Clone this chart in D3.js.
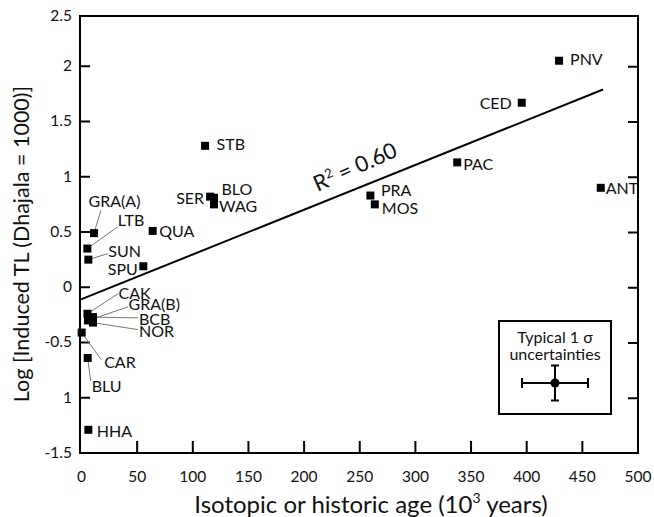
<!DOCTYPE html>
<html>
<head>
<meta charset="utf-8">
<script src="https://cdn.jsdelivr.net/npm/d3@7"></script>
<style>
  html, body { margin: 0; padding: 0; background: #fff; }
  svg { display: block; font-family: Lato, "Open Sans", sans-serif; }
</style>
</head>
<body>
<svg id="chart" width="654" height="517"></svg>
<script>
// Sample sites: isotopic/historic age (kyr) and log induced TL
const sites = ["PNV", "CED", "PAC", "ANT", "PRA", "MOS", "STB", "SER", "BLO", "WAG",
               "QUA", "GRA(A)", "LTB", "SUN", "SPU", "CAK", "GRA(B)", "BCB", "NOR",
               "CAR", "BLU", "HHA"];
const ages = [429.5, 396, 338, 467, 260, 264, 111.5, 116, 119.5, 119.5,
              64.4, 11.7, 5.7, 6.6, 56, 5.8, 6.3, 10.8, 10.8,
              0.6, 6, 6.6];
const logTL = [2.05, 1.67, 1.13, 0.90, 0.83, 0.75, 1.28, 0.82, 0.81, 0.75,
               0.51, 0.49, 0.35, 0.25, 0.19, -0.24, -0.30, -0.27, -0.32,
               -0.41, -0.64, -1.29];

// Least-squares fit line (intercept, slope) and its drawn extent
const fitIntercept = -0.11;
const fitSlope = 0.00405;
const fitRange = [0, 469];

// Axis ticks
const xTicks = [0, 50, 100, 150, 200, 250, 300, 350, 400, 450, 500];
const yTicks = [2.5, 2, 1.5, 1, 0.5, 0, -0.5, -1, -1.5];
const yTickLabels = ["2.5", "2", "1.5", "1", "0.5", "0", "-0.5", "1", "-1.5"];

// Label placement per site: [dx, dy, anchor] and optional leader end offset
const labelPlacement = {
  "PNV":    { d: [11, -2.5, "start"] },
  "CED":    { d: [-10, 0, "end"] },
  "PAC":    { d: [6, 1, "start"] },
  "ANT":    { d: [5, 0, "start"] },
  "PRA":    { d: [10.5, -6, "start"] },
  "MOS":    { d: [7, 3, "start"] },
  "STB":    { d: [11.5, -2, "start"] },
  "SER":    { d: [-6, 1, "end"] },
  "BLO":    { d: [7.5, -9, "start"] },
  "WAG":    { d: [5, 1.5, "start"] },
  "QUA":    { d: [6.5, 0, "start"] },
  "GRA(A)": { d: [20.5, -33, "middle"], leader: [7, -23] },
  "LTB":    { d: [30.5, -29, "start"], leader: [30, -21.5] },
  "SUN":    { d: [20, -9, "start"], leader: [19.5, -6] },
  "SPU":    { d: [-5.5, 2, "end"] },
  "CAK":    { d: [31, -21, "start"], leader: [30.5, -20] },
  "GRA(B)": { d: [40.5, -17, "start"], leader: [40, -13.5] },
  "BCB":    { d: [46, 1.5, "start"], leader: [45, 0.8] },
  "NOR":    { d: [46, 7.7, "start"], leader: [45, 7] },
  "CAR":    { d: [22.5, 29, "start"], leader: [19.5, 27] },
  "BLU":    { d: [4, 27.7, "start"], leader: [3, 23] },
  "HHA":    { d: [8.5, 0.7, "start"] }
};

const svg = d3.select("#chart");
const frame = { left: 80, right: 638, top: 16, bottom: 453 };

const x = d3.scaleLinear().domain([0, 500]).range([81, 637.5]);
const y = d3.scaleLinear().domain([-1.5, 2.5]).range([453, 11]);

// Frame
svg.append("rect")
  .attr("x", frame.left).attr("y", frame.top)
  .attr("width", frame.right - frame.left).attr("height", frame.bottom - frame.top)
  .attr("fill", "none").attr("stroke", "#000").attr("stroke-width", 2);

// Axes with inward ticks
const fontTick = 15.5;
const xAxis = d3.axisBottom(x).tickValues(xTicks).tickSize(-12).tickPadding(18)
  .tickFormat(d3.format("d"));
const gx = svg.append("g").attr("transform", `translate(0,${frame.bottom})`).call(xAxis);
gx.select(".domain").remove();
gx.selectAll(".tick line").attr("stroke", "#000").attr("stroke-width", 2)
  .filter(d => d === 0 || d === 500).remove();
gx.selectAll(".tick text").attr("font-size", fontTick).attr("fill", "#111")
  .attr("font-family", "Lato, sans-serif");

const yAxis = d3.axisLeft(y).tickValues(yTicks).tickSize(-10).tickPadding(8)
  .tickFormat((d, i) => yTickLabels[i]);
const gy = svg.append("g").attr("transform", `translate(${frame.left},0)`).call(yAxis);
gy.select(".domain").remove();
gy.selectAll(".tick").attr("transform", d => `translate(0,${Math.max(y(d), frame.top)})`);
gy.selectAll(".tick line").attr("stroke", "#000").attr("stroke-width", 2)
  .filter(d => d === 2.5 || d === -1.5).remove();
gy.selectAll(".tick text").attr("font-size", fontTick).attr("fill", "#111")
  .attr("font-family", "Lato, sans-serif");

const yAxisR = d3.axisRight(y).tickValues(yTicks.filter(d => d !== 2.5 && d !== -1.5))
  .tickSize(-10).tickFormat("");
const gyr = svg.append("g").attr("transform", `translate(${frame.right},0)`).call(yAxisR);
gyr.select(".domain").remove();
gyr.selectAll(".tick line").attr("stroke", "#000").attr("stroke-width", 2);

// Axis titles
svg.append("text")
  .attr("x", 371).attr("y", 503)
  .attr("text-anchor", "middle").attr("dominant-baseline", "central")
  .attr("font-size", 24).attr("fill", "#111")
  .call(t => {
    t.append("tspan").text("Isotopic or historic age (10");
    t.append("tspan").text("3").attr("font-size", 14).attr("dy", -6);
    t.append("tspan").text(" years)").attr("dy", 6);
  });

svg.append("text")
  .attr("transform", "translate(21,244) rotate(-90)")
  .attr("text-anchor", "middle").attr("dominant-baseline", "central")
  .attr("font-size", 21.5).attr("fill", "#111")
  .text("Log [Induced TL (Dhajala = 1000)]");

// Regression line
const fitY = v => fitIntercept + fitSlope * v;
svg.append("line")
  .attr("x1", x(fitRange[0])).attr("y1", y(fitY(fitRange[0])))
  .attr("x2", x(fitRange[1])).attr("y2", y(fitY(fitRange[1])))
  .attr("stroke", "#000").attr("stroke-width", 2);

// Fit annotation, set just above the line
const rx = 249;
svg.append("text")
  .attr("transform", `translate(${x(rx)},${y(fitY(rx)) - 14}) rotate(-24)`)
  .attr("text-anchor", "middle")
  .attr("font-size", 22).attr("fill", "#111")
  .call(t => {
    t.append("tspan").text("R");
    t.append("tspan").text("2").attr("font-size", 13).attr("dy", -8);
    t.append("tspan").text(" = 0.60").attr("dy", 8);
  });

// Data table
const data = sites.map((s, i) => ({ site: s, age: ages[i], tl: logTL[i] }));

// Leader lines
svg.append("g").selectAll("line")
  .data(data.filter(d => labelPlacement[d.site].leader))
  .join("line")
  .attr("x1", d => x(d.age)).attr("y1", d => y(d.tl))
  .attr("x2", d => x(d.age) + labelPlacement[d.site].leader[0])
  .attr("y2", d => y(d.tl) + labelPlacement[d.site].leader[1])
  .attr("stroke", "#777").attr("stroke-width", 1);

// Markers
const ms = 8;
svg.append("g").selectAll("rect")
  .data(data).join("rect")
  .attr("x", d => x(d.age) - ms / 2).attr("y", d => y(d.tl) - ms / 2)
  .attr("width", ms).attr("height", ms).attr("fill", "#000");

// Site labels
svg.append("g").selectAll("text")
  .data(data).join("text")
  .attr("x", d => x(d.age) + labelPlacement[d.site].d[0])
  .attr("y", d => y(d.tl) + labelPlacement[d.site].d[1])
  .attr("text-anchor", d => labelPlacement[d.site].d[2])
  .attr("dominant-baseline", "central")
  .attr("font-size", 16).attr("fill", "#111")
  .text(d => d.site);

// Uncertainty legend
const lg = svg.append("g");
lg.append("rect").attr("x", 499).attr("y", 321).attr("width", 112).attr("height", 93)
  .attr("fill", "#fff").attr("stroke", "#000").attr("stroke-width", 2);
lg.append("text").attr("x", 555).attr("y", 336).attr("text-anchor", "middle")
  .attr("dominant-baseline", "central").attr("font-size", 16).attr("fill", "#111")
  .text("Typical 1 \u03C3");
lg.append("text").attr("x", 555).attr("y", 353).attr("text-anchor", "middle")
  .attr("dominant-baseline", "central").attr("font-size", 16).attr("fill", "#111")
  .text("uncertainties");
const cx = 555, cy = 383, hw = 33, hh = 17.5;
const eb = [
  [cx - hw, cy, cx + hw, cy], [cx, cy - hh, cx, cy + hh],
  [cx - hw, cy - 5, cx - hw, cy + 5], [cx + hw, cy - 5, cx + hw, cy + 5],
  [cx - 4, cy - hh, cx + 4, cy - hh], [cx - 4, cy + hh, cx + 4, cy + hh]
];
lg.selectAll("line").data(eb).join("line")
  .attr("x1", d => d[0]).attr("y1", d => d[1]).attr("x2", d => d[2]).attr("y2", d => d[3])
  .attr("stroke", "#000").attr("stroke-width", 2);
lg.append("circle").attr("cx", cx).attr("cy", cy).attr("r", 4.5).attr("fill", "#000");
</script>
</body>
</html>
